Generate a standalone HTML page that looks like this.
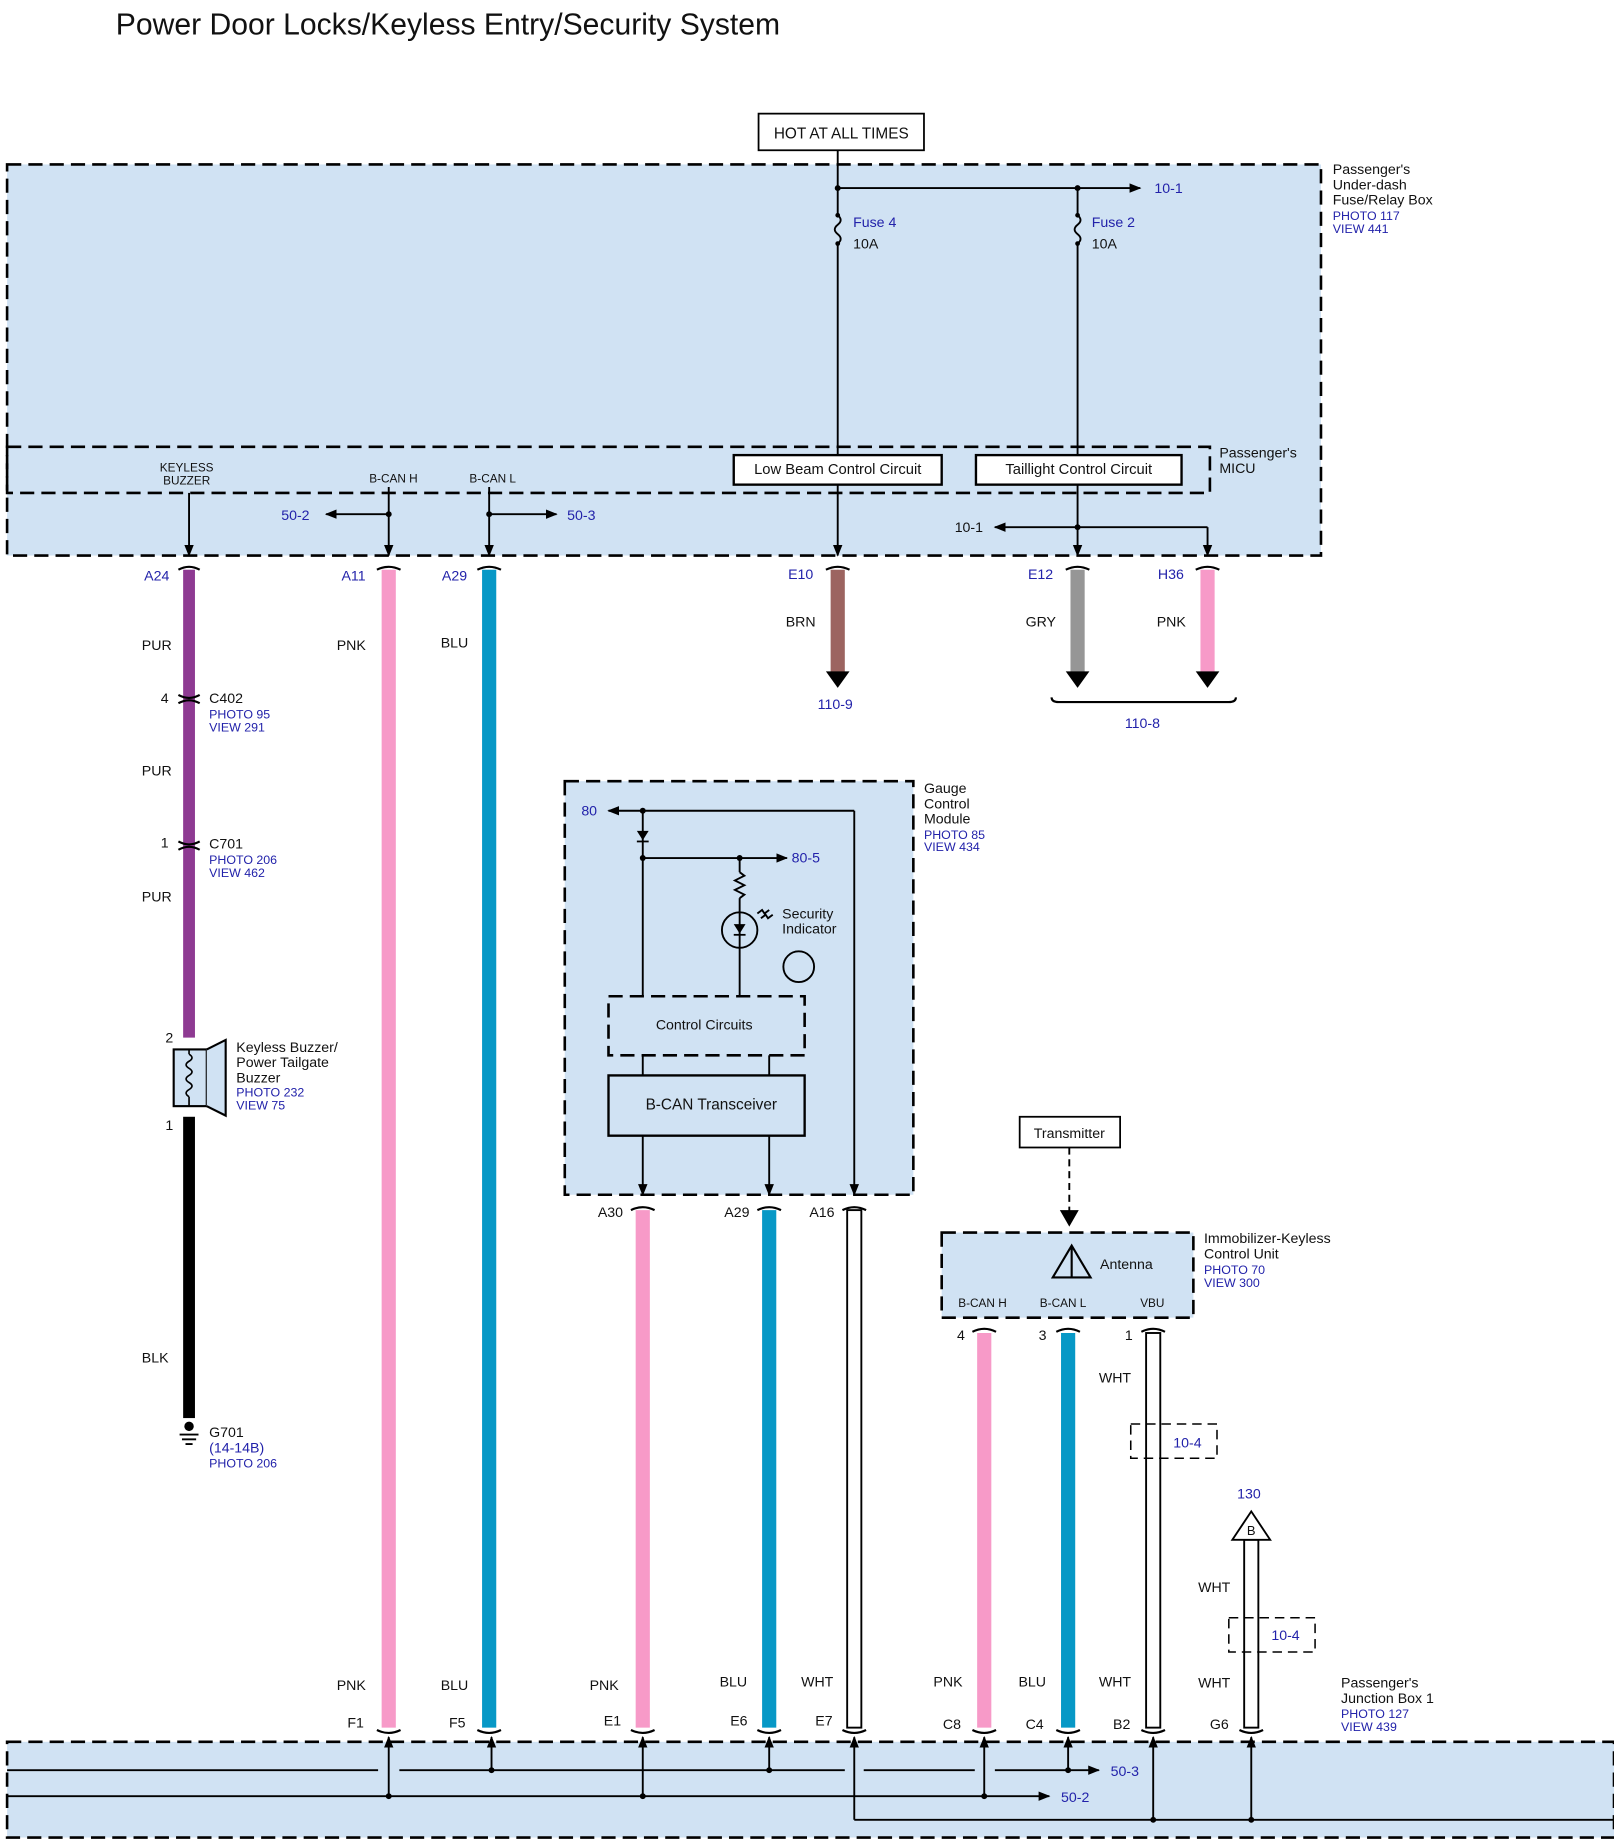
<!DOCTYPE html>
<html><head><meta charset="utf-8"><style>
html,body{margin:0;padding:0;background:#fff}
svg{display:block}
text{font-family:"Liberation Sans",sans-serif;font-size:12px;fill:#111}
.b{fill:#2222aa}
.s{font-size:10.5px}
</style></head><body>
<svg width="1614" height="1846" viewBox="0 0 1366 1562" xmlns="http://www.w3.org/2000/svg">
<defs>
<marker id="ar" markerWidth="10" markerHeight="10" refX="9" refY="5" orient="auto" markerUnits="userSpaceOnUse"><path d="M0,1 L10,5 L0,9 Z" fill="#000"/></marker>
</defs>
<text x="98" y="29" style="font-size:25.5px">Power Door Locks/Keyless Entry/Security System</text>

<!-- fuse box -->
<rect x="6" y="139" width="1112" height="331" fill="#d0e2f3" stroke="#000" stroke-width="2.2" stroke-dasharray="12,6"/>
<rect x="6" y="378" width="1018" height="39" fill="none" stroke="#000" stroke-width="2.2" stroke-dasharray="12,6"/>
<text x="1128" y="147">Passenger's</text><text x="1128" y="160">Under-dash</text><text x="1128" y="173">Fuse/Relay Box</text>
<text x="1128" y="186" class="b s">PHOTO 117</text><text x="1128" y="197" class="b s">VIEW 441</text>
<text x="1032" y="387">Passenger's</text><text x="1032" y="400">MICU</text>

<rect x="642" y="96" width="140" height="31" fill="#fff" stroke="#000" stroke-width="1.5"/>
<text x="712" y="117" text-anchor="middle" style="font-size:13px">HOT AT ALL TIMES</text>

<g stroke="#000" stroke-width="1.6" fill="none">
<line x1="709" y1="127" x2="709" y2="182"/>
<line x1="709" y1="159" x2="965" y2="159" marker-end="url(#ar)"/>
<line x1="912" y1="159" x2="912" y2="182"/>
<path d="M709 182 q5 4 0 8 q-5 4 0 8 q5 4 0 8"/>
<path d="M912 182 q5 4 0 8 q-5 4 0 8 q5 4 0 8"/>
<line x1="709" y1="206" x2="709" y2="385"/>
<line x1="912" y1="206" x2="912" y2="385"/>
<line x1="709" y1="410" x2="709" y2="470" marker-end="url(#ar)"/>
<line x1="912" y1="410" x2="912" y2="470" marker-end="url(#ar)"/>
<line x1="912" y1="446" x2="842" y2="446" marker-end="url(#ar)"/>
<line x1="912" y1="446" x2="1022" y2="446"/>
<line x1="1022" y1="446" x2="1022" y2="470" marker-end="url(#ar)"/>
<line x1="160" y1="417" x2="160" y2="470" marker-end="url(#ar)"/>
<line x1="329" y1="412" x2="329" y2="470" marker-end="url(#ar)"/>
<line x1="414" y1="412" x2="414" y2="470" marker-end="url(#ar)"/>
<line x1="329" y1="435" x2="276" y2="435" marker-end="url(#ar)"/>
<line x1="414" y1="435" x2="471" y2="435" marker-end="url(#ar)"/>
</g>
<g fill="#000"><circle cx="709" cy="159" r="2.5"/><circle cx="912" cy="159" r="2.5"/><circle cx="912" cy="446" r="2.5"/><circle cx="329" cy="435" r="2.5"/><circle cx="414" cy="435" r="2.5"/><circle cx="709" cy="182" r="2"/><circle cx="709" cy="206" r="2"/><circle cx="912" cy="182" r="2"/><circle cx="912" cy="206" r="2"/></g>
<text x="977" y="163" class="b">10-1</text>
<text x="722" y="192" class="b">Fuse 4</text><text x="722" y="210">10A</text>
<text x="924" y="192" class="b">Fuse 2</text><text x="924" y="210">10A</text>
<rect x="621" y="385" width="176" height="25" fill="#fff" stroke="#000" stroke-width="2"/>
<text x="709" y="401" text-anchor="middle" style="font-size:12.5px">Low Beam Control Circuit</text>
<rect x="826" y="385" width="174" height="25" fill="#fff" stroke="#000" stroke-width="2"/>
<text x="913" y="401" text-anchor="middle" style="font-size:12.5px">Taillight Control Circuit</text>
<text x="808" y="450">10-1</text>
<text x="158" y="399" text-anchor="middle" style="font-size:10px">KEYLESS</text><text x="158" y="410" text-anchor="middle" style="font-size:10px">BUZZER</text>
<text x="333" y="408" text-anchor="middle" style="font-size:10px">B-CAN H</text>
<text x="417" y="408" text-anchor="middle" style="font-size:10px">B-CAN L</text>
<text x="238" y="440" class="b">50-2</text><text x="480" y="440" class="b">50-3</text>

<!-- wires upper -->
<rect x="155" y="482" width="10" height="396" fill="#8e3a92"/>
<rect x="155" y="945" width="10" height="255" fill="#000"/>
<rect x="323" y="482" width="12" height="980" fill="#f79ac8"/>
<rect x="408" y="482" width="12" height="980" fill="#0798c6"/>
<rect x="703" y="482" width="12" height="88" fill="#9c6460"/>
<rect x="906" y="482" width="12" height="88" fill="#969696"/>
<rect x="1016" y="482" width="12" height="88" fill="#f79ac8"/>
<g fill="#000"><path d="M699 568 h20 l-10 14 z"/><path d="M902 568 h20 l-10 14 z"/><path d="M1012 568 h20 l-10 14 z"/></g>
<g stroke="#000" stroke-width="1.8" fill="none">
<path d="M151 482 q9 -5 18 0"/><path d="M319 482 q10 -5 20 0"/><path d="M404 482 q10 -5 20 0"/>
<path d="M699 482 q10 -5 20 0"/><path d="M902 482 q10 -5 20 0"/><path d="M1012 482 q10 -5 20 0"/>
<path d="M151 588 q9 5 18 0 M151 595 q9 -5 18 0"/>
<path d="M151 712 q9 5 18 0 M151 719 q9 -5 18 0"/>
<path d="M890 590 q0 4 6 4 h144 q6 0 6 -4"/>
</g>
<text x="122" y="491" class="b">A24</text><text x="289" y="491" class="b">A11</text><text x="374" y="491" class="b">A29</text>
<text x="667" y="490" class="b">E10</text><text x="870" y="490" class="b">E12</text><text x="980" y="490" class="b">H36</text>
<text x="120" y="550">PUR</text><text x="285" y="550">PNK</text><text x="373" y="548">BLU</text>
<text x="665" y="530">BRN</text><text x="868" y="530">GRY</text><text x="979" y="530">PNK</text>
<text x="692" y="600" class="b">110-9</text><text x="952" y="616" class="b">110-8</text>
<text x="136" y="595">4</text><text x="177" y="595">C402</text><text x="177" y="608" class="b s">PHOTO 95</text><text x="177" y="619" class="b s">VIEW 291</text>
<text x="120" y="656">PUR</text>
<text x="136" y="717">1</text><text x="177" y="718">C701</text><text x="177" y="731" class="b s">PHOTO 206</text><text x="177" y="742" class="b s">VIEW 462</text>
<text x="120" y="763">PUR</text>

<!-- buzzer -->
<text x="140" y="882">2</text><text x="140" y="956">1</text>
<rect x="147" y="888" width="28" height="48" fill="#d0e2f3" stroke="#000" stroke-width="1.8"/>
<path d="M175 888 L191 880 L191 944 L175 936" fill="#d0e2f3" stroke="#000" stroke-width="1.8"/>
<path d="M160 892 q5 3 0 6 q-5 3 0 6 q5 3 0 6 q-5 3 0 6 q5 3 0 6 q-5 3 0 6 M160 888 v4 M160 928 v8" fill="none" stroke="#000" stroke-width="1.4"/>
<text x="200" y="890">Keyless Buzzer/</text><text x="200" y="903">Power Tailgate</text><text x="200" y="916">Buzzer</text>
<text x="200" y="928" class="b s">PHOTO 232</text><text x="200" y="939" class="b s">VIEW 75</text>
<text x="120" y="1153">BLK</text>
<g stroke="#000" stroke-width="1.6"><line x1="152" y1="1214" x2="168" y2="1214"/><line x1="154" y1="1218" x2="166" y2="1218"/><line x1="157" y1="1222" x2="163" y2="1222"/></g>
<circle cx="160" cy="1207" r="4" fill="#000"/>
<text x="177" y="1216">G701</text><text x="177" y="1229" class="b">(14-14B)</text><text x="177" y="1242" class="b s">PHOTO 206</text>

<!-- gauge module -->
<rect x="478" y="661" width="295" height="350" fill="#d0e2f3" stroke="#000" stroke-width="2.2" stroke-dasharray="12,6"/>
<text x="782" y="671">Gauge</text><text x="782" y="684">Control</text><text x="782" y="697">Module</text>
<text x="782" y="710" class="b s">PHOTO 85</text><text x="782" y="720" class="b s">VIEW 434</text>
<g stroke="#000" stroke-width="1.6" fill="none">
<line x1="723" y1="686" x2="515" y2="686" marker-end="url(#ar)"/>
<line x1="723" y1="686" x2="723" y2="1011" marker-end="url(#ar)"/>
<line x1="544" y1="686" x2="544" y2="843"/>
<line x1="544" y1="726" x2="666" y2="726" marker-end="url(#ar)"/>
<line x1="626" y1="726" x2="626" y2="738"/>
<path d="M626 738 l4 3 l-8 4 l8 4 l-8 4 l8 4 l-4 3"/>
<line x1="626" y1="760" x2="626" y2="843"/>
<circle cx="626" cy="787" r="15"/>
<circle cx="676" cy="818" r="13"/>
<line x1="544" y1="961" x2="544" y2="1011" marker-end="url(#ar)"/>
<line x1="651" y1="961" x2="651" y2="1011" marker-end="url(#ar)"/>
<line x1="544" y1="893" x2="544" y2="910"/><line x1="651" y1="893" x2="651" y2="910"/>
<path d="M641 773 l4 -3 l2 3 l4 -3 M644 777 l4 -3 l2 3 l4 -3"/>
</g>
<path d="M539 703 h10 l-5 8z" fill="#000"/><line x1="539" y1="712" x2="549" y2="712" stroke="#000" stroke-width="1.5"/>
<path d="M621 782 h10 l-5 8z" fill="#000"/><line x1="621" y1="791" x2="631" y2="791" stroke="#000" stroke-width="1.5"/>
<g fill="#000"><circle cx="544" cy="686" r="2.5"/><circle cx="544" cy="726" r="2.5"/><circle cx="626" cy="726" r="2.5"/></g>
<text x="492" y="690" class="b">80</text><text x="670" y="730" class="b">80-5</text>
<text x="662" y="777">Security</text><text x="662" y="790">Indicator</text>
<rect x="515" y="843" width="166" height="50" fill="none" stroke="#000" stroke-width="2.2" stroke-dasharray="12,6"/>
<text x="596" y="871" text-anchor="middle">Control Circuits</text>
<rect x="515" y="910" width="166" height="51" fill="none" stroke="#000" stroke-width="2"/>
<text x="602" y="939" text-anchor="middle" style="font-size:13px">B-CAN Transceiver</text>

<!-- gauge wires -->
<rect x="538" y="1024" width="12" height="438" fill="#f79ac8"/>
<rect x="645" y="1024" width="12" height="438" fill="#0798c6"/>
<rect x="717" y="1024" width="12" height="438" fill="#fff" stroke="#000" stroke-width="1.6"/>
<g stroke="#000" stroke-width="1.8" fill="none">
<path d="M534 1024 q10 -5 20 0"/><path d="M641 1024 q10 -5 20 0"/><path d="M713 1024 q10 -5 20 0"/>
</g>
<text x="506" y="1030">A30</text><text x="613" y="1030">A29</text><text x="685" y="1030">A16</text>

<!-- transmitter / immobilizer -->
<rect x="863" y="945" width="85" height="26" fill="#fff" stroke="#000" stroke-width="1.5"/>
<text x="905" y="963" text-anchor="middle">Transmitter</text>
<line x1="905" y1="971" x2="905" y2="1026" stroke="#000" stroke-width="1.6" stroke-dasharray="6,4"/>
<path d="M897 1024 h16 l-8 14z" fill="#000"/>
<rect x="797" y="1043" width="213" height="72" fill="#d0e2f3" stroke="#000" stroke-width="2.2" stroke-dasharray="12,6"/>
<path d="M891 1081 L907 1054 L923 1081 Z M907 1054 V1081" fill="none" stroke="#000" stroke-width="1.8"/>
<text x="931" y="1074">Antenna</text>
<text x="811" y="1106" style="font-size:10px">B-CAN H</text><text x="880" y="1106" style="font-size:10px">B-CAN L</text><text x="965" y="1106" style="font-size:10px">VBU</text>
<text x="1019" y="1052">Immobilizer-Keyless</text><text x="1019" y="1065">Control Unit</text>
<text x="1019" y="1078" class="b s">PHOTO 70</text><text x="1019" y="1089" class="b s">VIEW 300</text>
<rect x="827" y="1128" width="12" height="334" fill="#f79ac8"/>
<rect x="898" y="1128" width="12" height="334" fill="#0798c6"/>
<rect x="970" y="1128" width="12" height="334" fill="#fff" stroke="#000" stroke-width="1.6"/>
<rect x="1053" y="1303" width="12" height="159" fill="#fff" stroke="#000" stroke-width="1.6"/>
<g stroke="#000" stroke-width="1.8" fill="none">
<path d="M823 1127 q10 -5 20 0"/><path d="M894 1127 q10 -5 20 0"/><path d="M966 1127 q10 -5 20 0"/>
</g>
<text x="810" y="1134">4</text><text x="879" y="1134">3</text><text x="952" y="1134">1</text>
<text x="930" y="1170">WHT</text>
<rect x="957" y="1205" width="73" height="29" fill="none" stroke="#000" stroke-width="1.3" stroke-dasharray="8,5"/>
<text x="993" y="1225" class="b">10-4</text>
<path d="M1043 1303 L1059 1279 L1075 1303 Z" fill="#fff" stroke="#000" stroke-width="1.6"/>
<text x="1059" y="1299" text-anchor="middle" style="font-size:11px">B</text>
<text x="1047" y="1268" class="b">130</text>
<text x="1014" y="1347">WHT</text>
<rect x="1040" y="1369" width="73" height="29" fill="none" stroke="#000" stroke-width="1.3" stroke-dasharray="8,5"/>
<text x="1076" y="1388" class="b">10-4</text>

<!-- bottom labels -->
<text x="285" y="1430">PNK</text><text x="373" y="1430">BLU</text><text x="499" y="1430">PNK</text><text x="609" y="1427">BLU</text><text x="678" y="1427">WHT</text>
<text x="790" y="1427">PNK</text><text x="862" y="1427">BLU</text><text x="930" y="1427">WHT</text><text x="1014" y="1428">WHT</text>
<text x="294" y="1462">F1</text><text x="380" y="1462">F5</text><text x="511" y="1460">E1</text><text x="618" y="1460">E6</text><text x="690" y="1460">E7</text>
<text x="798" y="1463">C8</text><text x="868" y="1463">C4</text><text x="942" y="1463">B2</text><text x="1024" y="1463">G6</text>
<text x="1135" y="1428">Passenger's</text><text x="1135" y="1441">Junction Box 1</text>
<text x="1135" y="1454" class="b s">PHOTO 127</text><text x="1135" y="1465" class="b s">VIEW 439</text>
<g stroke="#000" stroke-width="1.8" fill="none">
<path d="M319 1464 q10 5 20 0"/><path d="M404 1464 q10 5 20 0"/><path d="M534 1464 q10 5 20 0"/><path d="M641 1464 q10 5 20 0"/><path d="M713 1464 q10 5 20 0"/>
<path d="M823 1464 q10 5 20 0"/><path d="M894 1464 q10 5 20 0"/><path d="M966 1464 q10 5 20 0"/><path d="M1049 1464 q10 5 20 0"/>
</g>

<!-- junction box -->
<rect x="6" y="1474" width="1360" height="81" fill="#d0e2f3" stroke="#000" stroke-width="2.2" stroke-dasharray="12,6"/>
<g stroke="#000" stroke-width="1.6" fill="none">
<line x1="6" y1="1498" x2="320" y2="1498"/><line x1="338" y1="1498" x2="715" y2="1498"/><line x1="731" y1="1498" x2="825" y2="1498"/><line x1="842" y1="1498" x2="930" y2="1498" marker-end="url(#ar)"/>
<line x1="6" y1="1520" x2="888" y2="1520" marker-end="url(#ar)"/>
<line x1="329" y1="1520" x2="329" y2="1470" marker-end="url(#ar)"/>
<line x1="416" y1="1498" x2="416" y2="1470" marker-end="url(#ar)"/>
<line x1="544" y1="1520" x2="544" y2="1470" marker-end="url(#ar)"/>
<line x1="651" y1="1498" x2="651" y2="1470" marker-end="url(#ar)"/>
<line x1="723" y1="1540" x2="723" y2="1470" marker-end="url(#ar)"/>
<line x1="833" y1="1520" x2="833" y2="1470" marker-end="url(#ar)"/>
<line x1="904" y1="1498" x2="904" y2="1470" marker-end="url(#ar)"/>
<line x1="976" y1="1540" x2="976" y2="1470" marker-end="url(#ar)"/>
<line x1="1059" y1="1540" x2="1059" y2="1470" marker-end="url(#ar)"/>
<line x1="723" y1="1540" x2="1366" y2="1540"/>
</g>
<g fill="#000"><circle cx="329" cy="1520" r="2.5"/><circle cx="416" cy="1498" r="2.5"/><circle cx="544" cy="1520" r="2.5"/><circle cx="651" cy="1498" r="2.5"/><circle cx="833" cy="1520" r="2.5"/><circle cx="904" cy="1498" r="2.5"/><circle cx="976" cy="1540" r="2.5"/><circle cx="1059" cy="1540" r="2.5"/></g>
<text x="940" y="1503" class="b">50-3</text><text x="898" y="1525" class="b">50-2</text>
</svg>
</body></html>
